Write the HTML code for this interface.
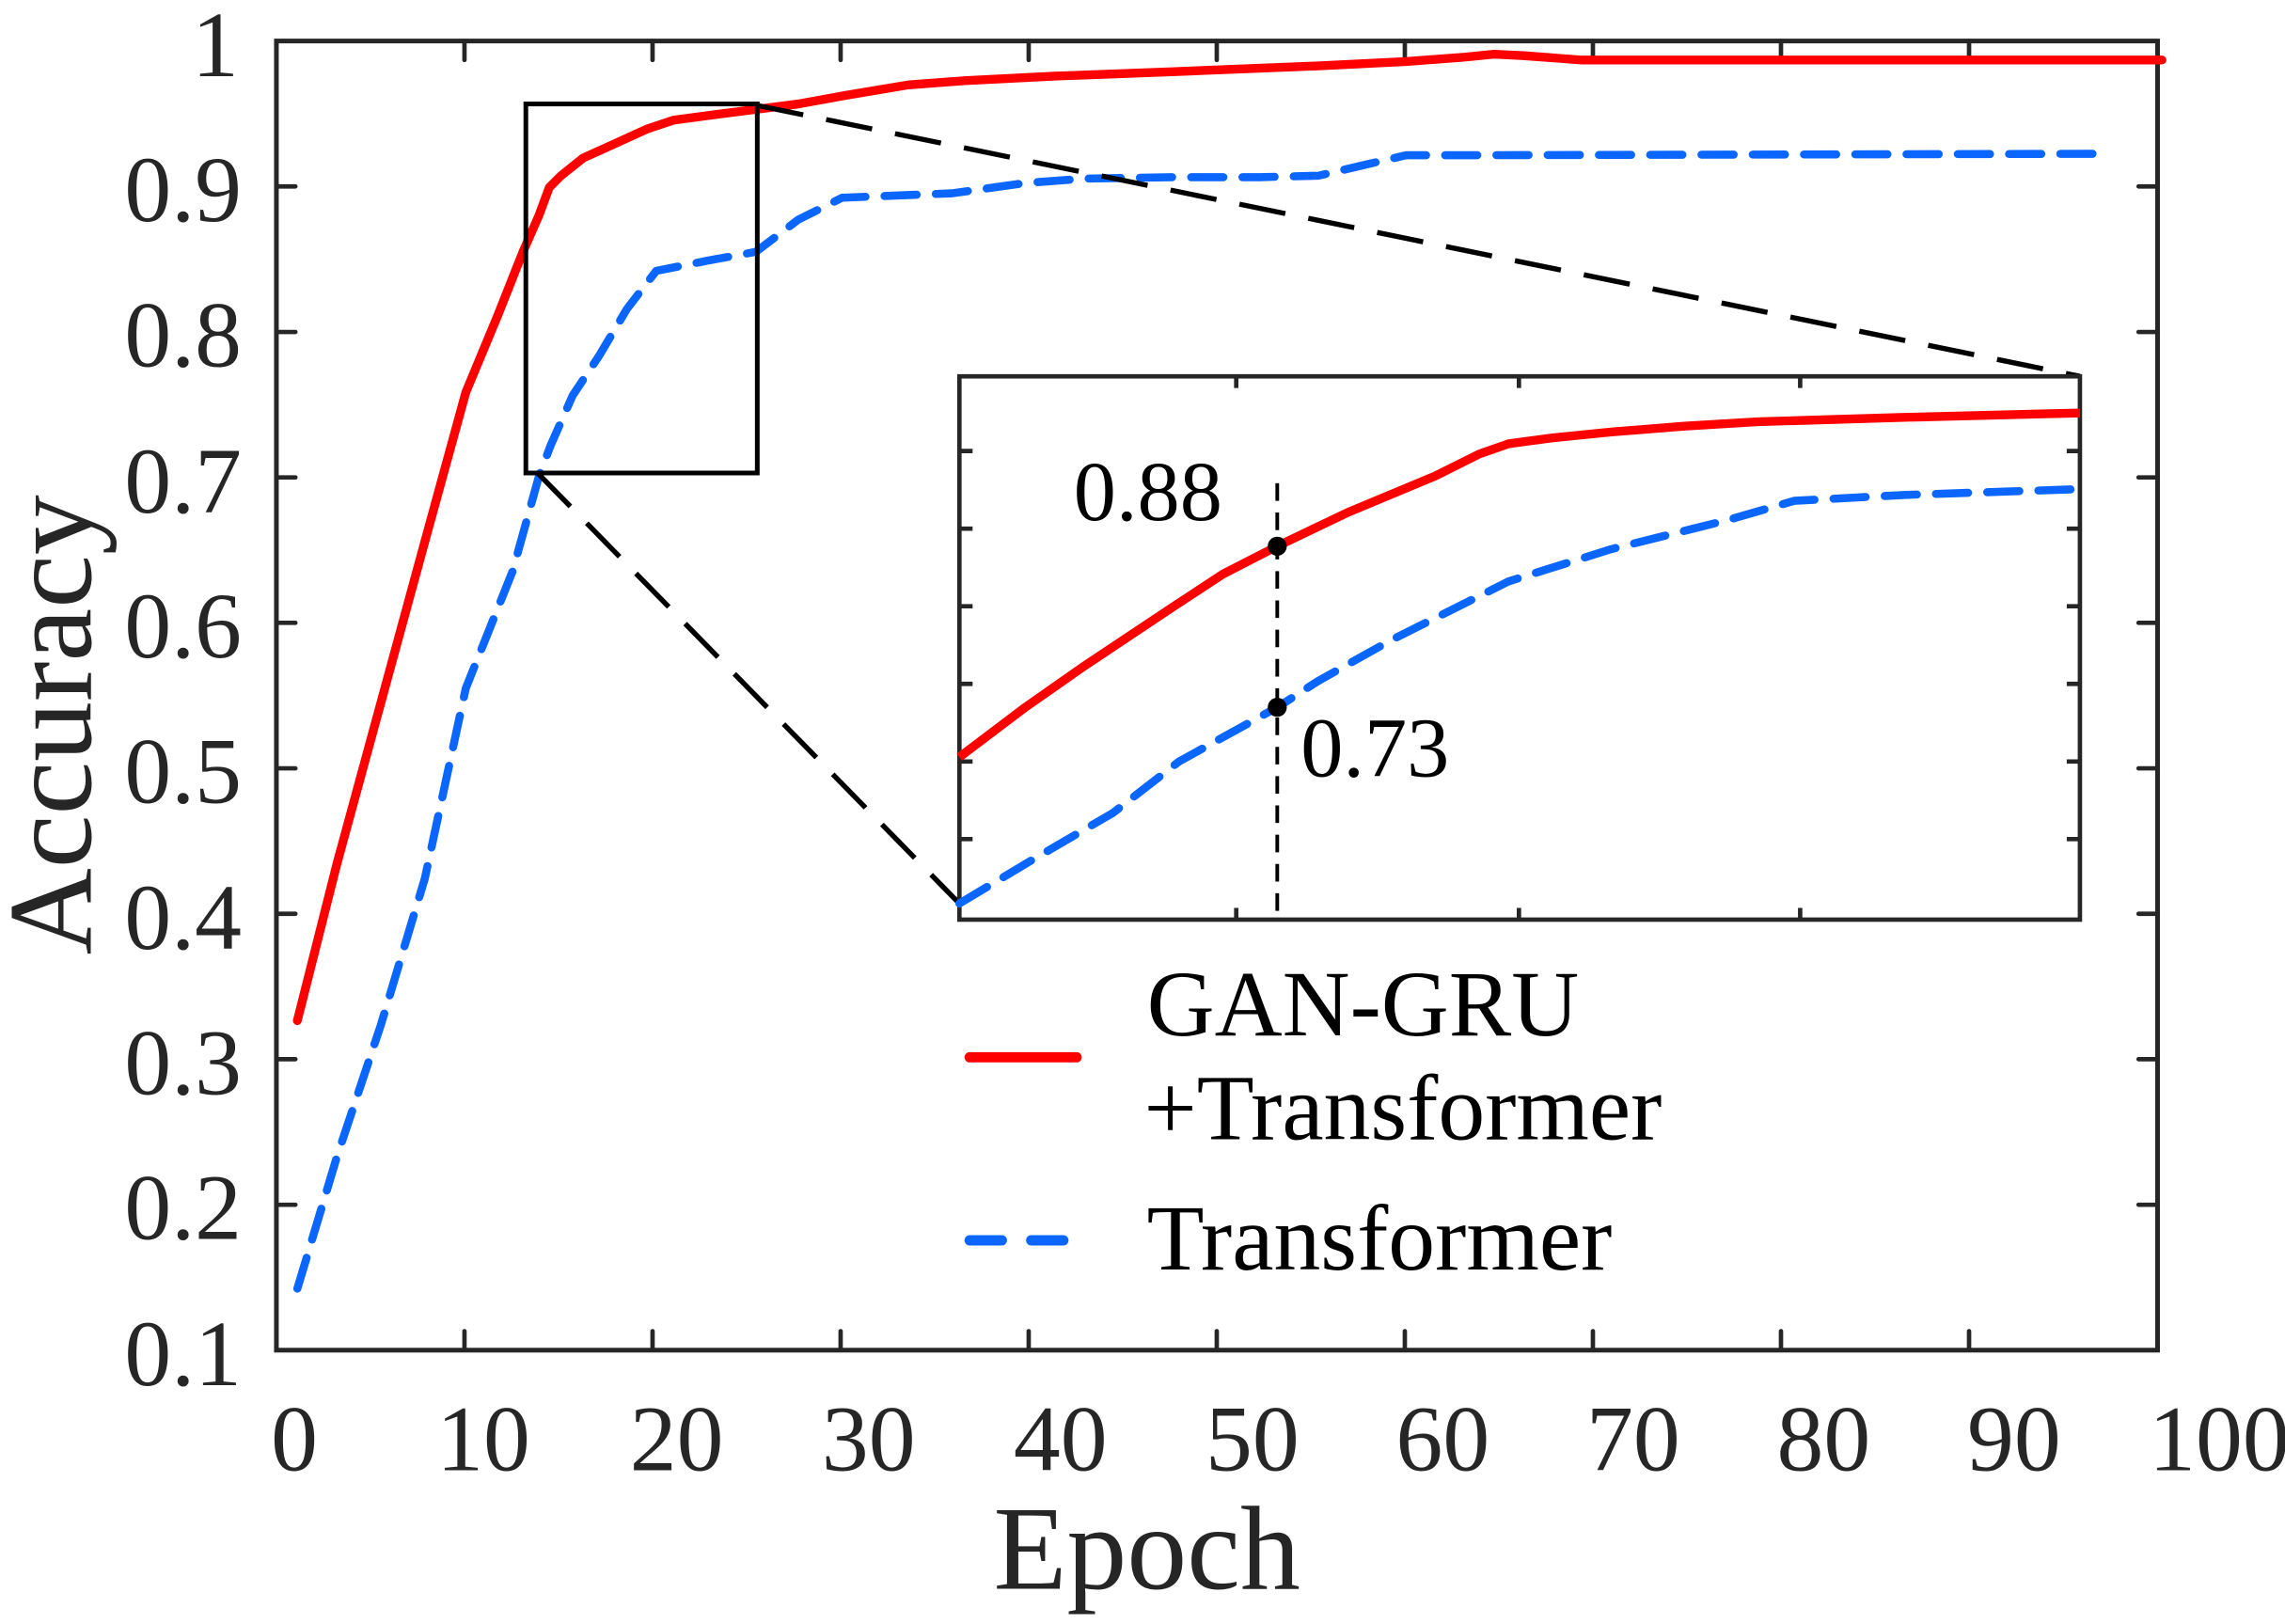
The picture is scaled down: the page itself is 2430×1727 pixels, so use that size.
<!DOCTYPE html>
<html><head><meta charset="utf-8"><style>
html,body{margin:0;padding:0;background:#fff;}
svg{display:block;}
text{font-family:"Liberation Serif",serif;fill:#262626;}
</style></head><body>
<svg width="2430" height="1727" viewBox="0 0 1560 1109" preserveAspectRatio="none" xmlns="http://www.w3.org/2000/svg">
<rect width="1560" height="1109" fill="#fff"/>
<rect x="188.7" y="28" width="1284.3" height="894" fill="none" stroke="#262626" stroke-width="3.2"/>
<g stroke="#262626" stroke-width="3" stroke-linecap="round">
<path d="M317.1 922v-13M445.5 922v-13M573.9 922v-13M702.3 922v-13M830.7 922v-13M959.1 922v-13M1087.5 922v-13M1215.9 922v-13M1344.3 922v-13
M317.1 28v13M445.5 28v13M573.9 28v13M702.3 28v13M830.7 28v13M959.1 28v13M1087.5 28v13M1215.9 28v13M1344.3 28v13"/>
<path d="M188.7 127.3h13M188.7 226.7h13M188.7 326h13M188.7 425.3h13M188.7 524.7h13M188.7 624h13M188.7 723.3h13M188.7 822.7h13
M1473 127.3h-13M1473 226.7h-13M1473 326h-13M1473 425.3h-13M1473 524.7h-13M1473 624h-13M1473 723.3h-13M1473 822.7h-13"/>
</g>
<g font-size="64" text-anchor="end">
<text x="163" y="52">1</text>
<text x="165" y="151">0.9</text>
<text x="165" y="250">0.8</text>
<text x="165" y="350">0.7</text>
<text x="165" y="449">0.6</text>
<text x="165" y="548">0.5</text>
<text x="165" y="648">0.4</text>
<text x="165" y="747">0.3</text>
<text x="165" y="846">0.2</text>
<text x="165" y="946">0.1</text>
</g>
<g font-size="64" text-anchor="middle">
<text x="201" y="1004">0</text>
<text x="330" y="1004">10</text>
<text x="462" y="1004">20</text>
<text x="593" y="1004">30</text>
<text x="724" y="1004">40</text>
<text x="855" y="1004">50</text>
<text x="985" y="1004">60</text>
<text x="1115" y="1004">70</text>
<text x="1245" y="1004">80</text>
<text x="1375" y="1004">90</text>
<text x="1515" y="1004">100</text>
</g>
<text x="783" y="1085" font-size="82" text-anchor="middle">Epoch</text>
<text transform="translate(62,495) rotate(-90)" font-size="82" text-anchor="middle">Accuracy</text>

<polyline fill="none" stroke="#ff0000" stroke-width="6" stroke-linejoin="round" stroke-linecap="round"
points="203,697 230,590 260,480 290,370 318,268 340,215 357,172 368,147 375,128 383,120 398,108 420,98 442,88 460,82 490,78 514,75 545,71 578,65 620,58 660,55 720,52 800,49 900,45 960,42 1000,39 1020,37 1040,38 1080,41 1476,41"/>
<polyline fill="none" stroke="#0a66ff" stroke-width="5.5" stroke-dasharray="22 13" stroke-linejoin="round" stroke-linecap="round"
points="203,880 230,790 260,700 290,600 318,470 350,390 368,325 376,304 391,270 409,243 428,211 448,185 483,178 516,172 545,150 575,135 600,134 650,132 700,125 740,122 800,121 860,121 900,120 930,113 960,106 1000,106 1440,105"/>

<rect x="359" y="71" width="158" height="252" fill="none" stroke="#000" stroke-width="3.2"/>
<g stroke="#000" stroke-width="3.5" stroke-dasharray="32 16" fill="none">
<line x1="517" y1="72" x2="1420" y2="257"/>
<line x1="367" y1="323" x2="655" y2="617"/>
</g>

<rect x="655" y="257" width="765" height="371" fill="#fff" stroke="#262626" stroke-width="3"/>
<g stroke="#262626" stroke-width="3">
<path d="M655 308h9M655 361h9M655 414h9M655 467h9M655 520h9M655 573h9
M1420 308h-9M1420 361h-9M1420 414h-9M1420 467h-9M1420 520h-9M1420 573h-9
M844 628v-8M1037 628v-8M1229 628v-8M844 257v8M1037 257v8M1229 257v8"/>
</g>
<polyline fill="none" stroke="#ff0000" stroke-width="6" stroke-linejoin="round"
points="655,517 700,483 740,455 800,415 835,392 872,373 920,350 980,325 1010,310 1030,303 1060,299 1100,295 1150,291 1200,288 1300,285 1420,282"/>
<polyline fill="none" stroke="#0a66ff" stroke-width="5.5" stroke-dasharray="22 13" stroke-linejoin="round" stroke-linecap="round"
points="655,617 700,590 760,555 805,520 872,483 900,465 950,437 1000,412 1030,397 1100,375 1180,355 1225,342 1300,338 1420,334"/>
<line x1="872" y1="330" x2="872" y2="628" stroke="#000" stroke-width="2.5" stroke-dasharray="12 8"/>
<circle cx="872" cy="373" r="6.5" fill="#000"/>
<circle cx="872" cy="483" r="6.5" fill="#000"/>
<text x="733" y="355" font-size="58" style="fill:#000">0.88</text>
<text x="888" y="530" font-size="58" style="fill:#000">0.73</text>

<line x1="662" y1="722" x2="735" y2="722" stroke="#ff0000" stroke-width="7" stroke-linecap="round"/>
<line x1="662" y1="847" x2="735" y2="847" stroke="#0a66ff" stroke-width="7" stroke-linecap="round" stroke-dasharray="22 20"/>
<text x="783" y="707" font-size="64" style="fill:#000">GAN-GRU</text>
<text x="781" y="778" font-size="64" style="fill:#000">+Transformer</text>
<text x="783" y="867" font-size="64" style="fill:#000">Transformer</text>
</svg>
</body></html>
